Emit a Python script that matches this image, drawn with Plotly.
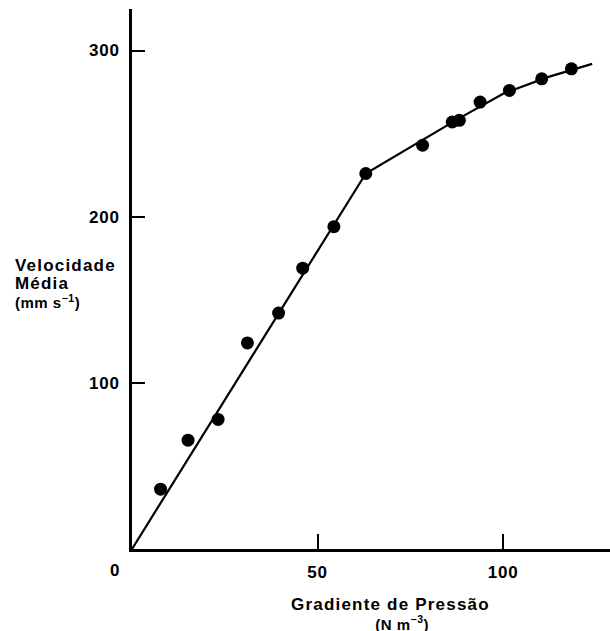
import plotly.graph_objects as go

# Data
pressure_gradient = [7.7, 15.1, 23.2, 31.1, 39.5, 46.0, 54.4, 63.0, 78.3, 86.3, 88.2, 93.8, 101.7, 110.4, 118.4]
mean_velocity = [36, 65.5, 78, 124, 142, 169, 194, 226, 243, 257, 258, 269, 276, 283, 289]

fit_x = [0, 63, 88, 100, 112, 124]
fit_y = [0, 226, 259, 274, 284, 292]

x_tickvals = [50, 100]
y_tickvals = [100, 200, 300]

FONT = "Liberation Sans, Arial, Helvetica, sans-serif"
W, H = 610, 631
L, R, T, B = 132, 0, 9, 82
PW = W - L - R
PH = H - T - B


def px_x(px):
    return (px - L) / PW


def px_y(py):
    return (H - B - py) / PH


def sp(txt, ls=1.2, size=None):
    st = f"letter-spacing:{ls}px"
    if size:
        st += f";font-size:{size}px"
    return f'<span style="{st}">{txt}</span>'


fig = go.Figure()
fig.add_trace(go.Scatter(x=fit_x, y=fit_y, mode="lines",
                         line=dict(color="black", width=2.2), hoverinfo="skip"))
fig.add_trace(go.Scatter(x=pressure_gradient, y=mean_velocity, mode="markers",
                         marker=dict(color="black", size=13, line=dict(width=0))))

fig.update_layout(
    width=W, height=H,
    margin=dict(l=L, r=R, t=T, b=B, pad=0),
    paper_bgcolor="white", plot_bgcolor="white",
    showlegend=False,
    font=dict(family=FONT, size=17, color="black"),
    xaxis=dict(range=[0, 128.8], showgrid=False, zeroline=False,
               showline=True, linecolor="black", linewidth=2.5,
               tickmode="array", tickvals=x_tickvals,
               ticktext=[f"<b>{sp(v, 0.8)}</b>" for v in x_tickvals],
               ticks="inside", ticklen=15, tickwidth=2, tickcolor="black",
               ticklabelstandoff=6,
               tickfont=dict(family=FONT, size=17, color="black")),
    yaxis=dict(range=[0, 325], showgrid=False, zeroline=False,
               showline=True, linecolor="black", linewidth=2.5,
               tickmode="array", tickvals=y_tickvals,
               ticktext=[f"<b>{sp(v, 0.8)}</b>" for v in y_tickvals],
               ticks="inside", ticklen=13, tickwidth=2, tickcolor="black",
               ticklabelstandoff=6,
               tickfont=dict(family=FONT, size=17, color="black")),
)

ann = [
    # shared origin label
    dict(text="<b>0</b>", x=px_x(114), y=px_y(570), xanchor="center", yanchor="middle", size=17),
    # y-axis title lines
    dict(text="<b>" + sp("Velocidade") + "</b>", x=px_x(13), y=px_y(265), xanchor="left", yanchor="middle", size=17),
    dict(text="<b>" + sp("Média") + "</b>", x=px_x(13), y=px_y(283), xanchor="left", yanchor="middle", size=17),
    dict(text="<b>" + sp("(mm s<sup>−1</sup>)", 0.5) + "</b>", x=px_x(13), y=px_y(301), xanchor="left", yanchor="middle", size=15),
    # x-axis title (two lines)
    dict(text="<b>" + sp("Gradiente de Pressão", 1.2, 17) + "<br>"
              + sp("&nbsp;&nbsp;&nbsp;&nbsp;&nbsp;(N m<sup>−3</sup>)", 0.5) + "</b>",
         x=px_x(390), y=px_y(614), xanchor="center", yanchor="middle", size=15),
]
for a in ann:
    fig.add_annotation(text=a["text"], xref="paper", yref="paper", x=a["x"], y=a["y"],
                       xanchor=a["xanchor"], yanchor=a["yanchor"], showarrow=False,
                       font=dict(family=FONT, size=a["size"], color="black"))

fig.write_html("out.html")
